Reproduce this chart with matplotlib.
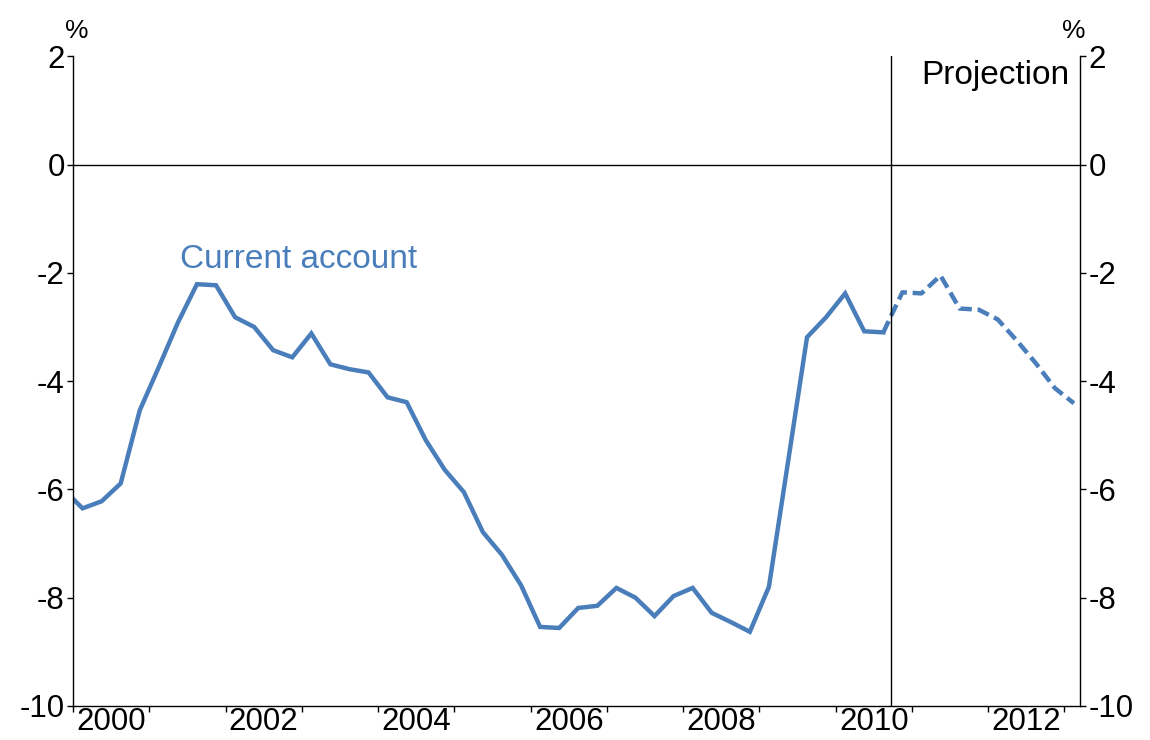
import numpy as np
import matplotlib
matplotlib.use("Agg")
import matplotlib.pyplot as plt
from matplotlib.ticker import FixedLocator, FixedFormatter

plt.rcParams['font.family'] = ['Liberation Sans', 'DejaVu Sans']

# Quarterly current account balance, % of GDP (1999Q4 to 2010Q3 actual)
actual = [-6.0,
          -6.35, -6.22, -5.89, -4.54,
          -3.74, -2.92, -2.21, -2.23,
          -2.82, -3.00, -3.43, -3.56,
          -3.12, -3.69, -3.78, -3.84,
          -4.30, -4.39, -5.09, -5.64,
          -6.05, -6.79, -7.21, -7.77,
          -8.54, -8.56, -8.19, -8.15,
          -7.82, -8.00, -8.34, -7.97,
          -7.82, -8.28, -8.45, -8.63,
          -7.80, -5.50, -3.19, -2.82,
          -2.38, -3.08, -3.10]
# Projection, 2010Q3 to 2013Q1
projection = [-3.10, -2.36, -2.38, -2.05, -2.66, -2.68,
              -2.86, -3.25, -3.67, -4.13, -4.41]

start_year = 1999.875
quarter = 0.25
x_actual = start_year + quarter * np.arange(len(actual))
x_proj = x_actual[-1] + quarter * np.arange(len(projection))

proj_start = 2010.72
years = np.arange(2000, 2014)
label_years = [2000, 2002, 2004, 2006, 2008, 2010, 2012]
y_ticks = [2, 0, -2, -4, -6, -8, -10]

blue = '#4a7ebb'

fig = plt.figure(figsize=(11.5, 7.4), dpi=100)
ax = fig.add_axes([0.0635, 0.046, 0.876, 0.878])

ax.plot(x_actual, actual, color=blue, lw=3.2, solid_joinstyle='miter')
ax.plot(x_proj, projection, color=blue, lw=3.2, dashes=(2.8, 1.3))

ax.axhline(0, color='black', lw=1)
ax.axvline(proj_start, color='black', lw=1)

ax.set_xlim(2000.0, 2013.21)
ax.set_ylim(-10, 2)

ax.spines['top'].set_visible(False)
for s in ['left', 'right', 'bottom']:
    ax.spines[s].set_linewidth(1)

# year boundary ticks, labels centred in the year
ax.xaxis.set_major_locator(FixedLocator(years))
ax.xaxis.set_major_formatter(FixedFormatter([''] * len(years)))
ax.xaxis.set_minor_locator(FixedLocator([y + 0.5 for y in label_years]))
ax.xaxis.set_minor_formatter(FixedFormatter([str(y) for y in label_years]))
ax.tick_params(axis='x', which='major', direction='out', length=4, width=1)
ax.tick_params(axis='x', which='minor', length=0, pad=1, labelsize=22.5)

ax.set_yticks(y_ticks)
ax.set_yticklabels([str(v) for v in y_ticks])
ax.tick_params(axis='y', direction='out', length=4, width=1, labelsize=22.5,
               pad=2, right=True, labelright=True)

ax.text(-0.008, 1.02, '%', transform=ax.transAxes, ha='left', va='bottom',
        fontsize=19)
ax.text(1.005, 1.02, '%', transform=ax.transAxes, ha='right', va='bottom',
        fontsize=19)

ax.text(2001.4, -1.75, 'Current account', color=blue, fontsize=24,
        ha='left', va='center')
ax.text(2013.07, 1.65, 'Projection', color='black', fontsize=24,
        ha='right', va='center')

fig.savefig('out.png', dpi=100)
